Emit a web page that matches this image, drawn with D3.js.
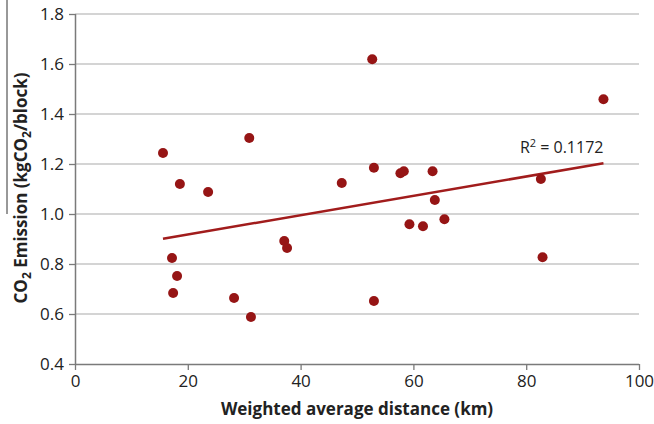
<!DOCTYPE html>
<html>
<head>
<meta charset="utf-8">
<script src="https://cdn.jsdelivr.net/npm/d3@7"></script>
<style>
  body { margin: 0; background: #fff; }
  text { font-family: "Open Sans", sans-serif; fill: #222; }
</style>
</head>
<body>
<div id="chart"></div>
<script>
// distance (km) and CO2 emission (kgCO2/block)
const distance = [15.6, 18.6, 23.6, 30.9, 17.2, 18.1, 17.4, 28.2, 31.2, 37.1, 37.6,
  47.3, 52.7, 53.0, 53.0, 57.7, 58.3, 63.4, 63.8, 59.3, 61.7, 65.5, 82.6, 82.9, 93.7];
const emission = [1.244, 1.12, 1.088, 1.304, 0.824, 0.752, 0.684, 0.664, 0.588, 0.892, 0.864,
  1.124, 1.619, 1.185, 0.652, 1.163, 1.171, 1.171, 1.056, 0.959, 0.951, 0.979, 1.14, 0.827, 1.459];
const trendX = [15.6, 93.7];
const trendY = [0.901, 1.203];
const xTicks = [0, 20, 40, 60, 80, 100];
const yTicks = [0.4, 0.6, 0.8, 1.0, 1.2, 1.4, 1.6, 1.8];

const width = 654, height = 424;
const margin = {left: 75, right: 15, top: 14, bottom: 60};

const svg = d3.select("#chart").append("svg")
  .attr("width", width)
  .attr("height", height);

const x = d3.scaleLinear().domain([0, 100]).range([margin.left, width - margin.right]);
const y = d3.scaleLinear().domain([0.4, 1.8]).range([height - margin.bottom, margin.top]);

// gridlines
svg.append("g")
  .selectAll("line")
  .data(yTicks.slice(1))
  .join("line")
  .attr("x1", x(0)).attr("x2", x(100))
  .attr("y1", d => y(d)).attr("y2", d => y(d))
  .attr("stroke", "#c6c6c6")
  .attr("stroke-width", 1.3);

// axes
const xAxis = svg.append("g")
  .attr("transform", `translate(0,${y(0.4)})`)
  .call(d3.axisBottom(x).tickValues(xTicks).tickSize(6).tickPadding(5).tickFormat(d3.format("d")));
const yAxis = svg.append("g")
  .attr("transform", `translate(${x(0)},0)`)
  .call(d3.axisLeft(y).tickValues(yTicks).tickSize(6).tickPadding(5).tickFormat(d3.format(".1f")));

[xAxis, yAxis].forEach(g => {
  g.select(".domain").attr("stroke", "#7a7a7a").attr("stroke-width", 1.5);
  g.selectAll(".tick line").attr("stroke", "#7a7a7a").attr("stroke-width", 1.3);
  g.selectAll(".tick text").attr("font-size", 17).attr("fill", "#222")
    .attr("font-family", "Open Sans, sans-serif");
});
yAxis.select(".domain").attr("d", `M0.5,${y(0.4)}V${y(1.8)}`);
xAxis.select(".domain").attr("d", `M${x(0)},0.5H${x(100)}`);

// trend line
svg.append("line")
  .attr("x1", x(trendX[0])).attr("y1", y(trendY[0]))
  .attr("x2", x(trendX[1])).attr("y2", y(trendY[1]))
  .attr("stroke", "#a11c1c")
  .attr("stroke-width", 2.5);

// points
svg.append("g")
  .selectAll("circle")
  .data(distance.map((d, i) => [d, emission[i]]))
  .join("circle")
  .attr("cx", d => x(d[0]))
  .attr("cy", d => y(d[1]))
  .attr("r", 5)
  .attr("fill", "#961515");

svg.append("text")
  .attr("x", x(trendX[1]))
  .attr("y", y(trendY[1]) - 10)
  .attr("text-anchor", "end")
  .attr("font-size", 16)
  .html("R<tspan font-size='11' dy='-6'>2</tspan><tspan dy='6'> = 0.1172</tspan>");

// axis titles
svg.append("text")
  .attr("x", (x(0) + x(100)) / 2)
  .attr("y", 415)
  .attr("text-anchor", "middle")
  .attr("font-size", 17)
  .attr("font-weight", "bold")
  .text("Weighted average distance (km)");

svg.append("text")
  .attr("transform", `translate(27,188) rotate(-90)`)
  .attr("text-anchor", "middle")
  .attr("font-size", 17)
  .attr("font-weight", "bold")
  .html("CO<tspan font-size='12' dy='4'>2</tspan><tspan dy='-4'> Emission (kgCO</tspan><tspan font-size='12' dy='4'>2</tspan><tspan dy='-4'>/block)</tspan>");

// stray edge line at far left of the figure
svg.append("line")
  .attr("x1", 7).attr("x2", 7)
  .attr("y1", 0).attr("y2", 214)
  .attr("stroke", "#333")
  .attr("stroke-width", 1);
</script>
</body>
</html>
